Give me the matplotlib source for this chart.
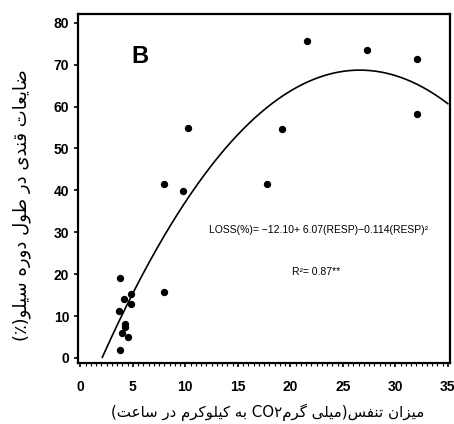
import numpy as np
import matplotlib
matplotlib.use('Agg')
import matplotlib.pyplot as plt
from matplotlib.ticker import MultipleLocator


# =============================================================================
# Data
# =============================================================================

resp = [3.8, 3.7, 4.2, 4.8, 4.8, 4.3, 4.3, 4.0, 4.5, 3.8,
        8.0, 8.0, 9.8, 10.3, 17.8, 19.2, 21.6, 27.3, 32.1, 32.1]
loss = [19.0, 11.1, 14.0, 15.3, 12.9, 8.2, 7.4, 6.0, 4.9, 2.0,
        15.8, 41.6, 39.9, 54.9, 41.6, 54.7, 75.6, 73.5, 71.3, 58.2]

# quadratic fit: LOSS = c0 + c1*RESP + c2*RESP^2
fit_coeffs = [-12.10, 6.07, -0.114]
fit_range = (2.1, 35.0)
r_squared = 0.87

x_ticks = [0, 5, 10, 15, 20, 25, 30, 35]
y_ticks = [0, 10, 20, 30, 40, 50, 60, 70, 80]

x_label = ['میزان', ' ', 'تنفس', '(', 'میلی', ' ', 'گرم', 'CO۲', ' ', 'به', ' ',
           'کیلوکرم', ' ', 'در', ' ', 'ساعت', ')']
y_label = ['ضایعات', ' ', 'قندی', ' ', 'در', ' ', 'طول', ' ', 'دوره', ' ', 'سیلو', '(٪)']


# =============================================================================
# Minimal Persian shaping (matplotlib has no RTL / joining support)
# =============================================================================

# isolated, final, initial, medial
FORMS = {
    'ا': ('\uFE8D', '\uFE8E', None, None),
    'ب': ('\uFE8F', '\uFE90', '\uFE91', '\uFE92'),
    'ت': ('\uFE95', '\uFE96', '\uFE97', '\uFE98'),
    'د': ('\uFEA9', '\uFEAA', None, None),
    'ر': ('\uFEAD', '\uFEAE', None, None),
    'ز': ('\uFEAF', '\uFEB0', None, None),
    'س': ('\uFEB1', '\uFEB2', '\uFEB3', '\uFEB4'),
    'ض': ('\uFEBD', '\uFEBE', '\uFEBF', '\uFEC0'),
    'ط': ('\uFEC1', '\uFEC2', '\uFEC3', '\uFEC4'),
    'ع': ('\uFEC9', '\uFECA', '\uFECB', '\uFECC'),
    'ف': ('\uFED1', '\uFED2', '\uFED3', '\uFED4'),
    'ق': ('\uFED5', '\uFED6', '\uFED7', '\uFED8'),
    'ل': ('\uFEDD', '\uFEDE', '\uFEDF', '\uFEE0'),
    'م': ('\uFEE1', '\uFEE2', '\uFEE3', '\uFEE4'),
    'ن': ('\uFEE5', '\uFEE6', '\uFEE7', '\uFEE8'),
    'ه': ('\uFEE9', '\uFEEA', '\uFEEB', '\uFEEC'),
    'و': ('\uFEED', '\uFEEE', None, None),
    'ی': ('\uFBFC', '\uFBFD', '\uFBFE', '\uFBFF'),
    'ک': ('\uFB8E', '\uFB8F', '\uFB90', '\uFB91'),
    'گ': ('\uFB92', '\uFB93', '\uFB94', '\uFB95'),
}
MIRROR = {'(': ')', ')': '('}


def shape_word(word):
    """Return the word with contextual forms, in visual (left-to-right) order."""
    out = []
    for i, ch in enumerate(word):
        if ch not in FORMS:
            out.append(ch)
            continue
        iso, fin, ini, med = FORMS[ch]
        prev = word[i - 1] if i > 0 else None
        nxt = word[i + 1] if i + 1 < len(word) else None
        joins_prev = prev in FORMS and FORMS[prev][2] is not None
        joins_next = ini is not None and nxt in FORMS
        if joins_prev and joins_next:
            out.append(med)
        elif joins_prev:
            out.append(fin)
        elif joins_next:
            out.append(ini)
        else:
            out.append(iso)
    return ''.join(reversed(out))


def visual(tokens):
    parts = []
    for tok in reversed(tokens):
        if any(c in FORMS for c in tok):
            parts.append(shape_word(tok))
        elif tok in MIRROR:
            parts.append(MIRROR[tok])
        else:
            parts.append(tok)
    return ''.join(parts)


# =============================================================================
# Plot
# =============================================================================

plt.rcParams['font.family'] = ['Liberation Sans', 'DejaVu Sans']

fig = plt.figure(figsize=(4.54, 4.24), dpi=100)
ax = fig.add_axes([0.171, 0.144, 0.820, 0.823])

ax.scatter(resp, loss, s=28, color='black', zorder=3, linewidths=0)

xs = np.linspace(fit_range[0], fit_range[1], 300)
ys = fit_coeffs[0] + fit_coeffs[1] * xs + fit_coeffs[2] * xs ** 2
ax.plot(xs, ys, color='black', lw=1.2)

ax.set_xlim(-0.25, 35.2)
ax.set_ylim(-1.2, 82.1)
ax.set_xticks(x_ticks)
ax.set_yticks(y_ticks)
ax.xaxis.set_minor_locator(MultipleLocator(0.5))
ax.tick_params(axis='both', which='major', direction='out', length=3, width=1.2,
               labelsize=10, colors='black')
ax.tick_params(axis='x', which='major', pad=9)
ax.tick_params(axis='x', which='minor', direction='out', length=2, width=0.8)
ax.tick_params(axis='y', which='major', pad=3)
for lbl in ax.get_xticklabels() + ax.get_yticklabels():
    lbl.set_fontweight('bold')
for spine in ax.spines.values():
    spine.set_linewidth(1.6)

ax.text(5.7, 71.9, 'B', fontsize=17, fontweight='bold', ha='center', va='center')
ax.text(22.7, 30.6,
        'LOSS(%)= \u221212.10+ 6.07(RESP)\u22120.114(RESP)\u00b2',
        fontsize=7.5, ha='center', va='center')
ax.text(22.5, 20.6, 'R\u00b2= %.2f**' % r_squared,
        fontsize=7.5, ha='center', va='center')

fig.text(0.59, 0.028, visual(x_label), fontsize=10.8, family='DejaVu Sans',
         ha='center', va='center')
fig.text(0.048, 0.516, visual(y_label), fontsize=13, family='DejaVu Sans',
         ha='center', va='center', rotation=90)

fig.savefig('out.png', dpi=100)
